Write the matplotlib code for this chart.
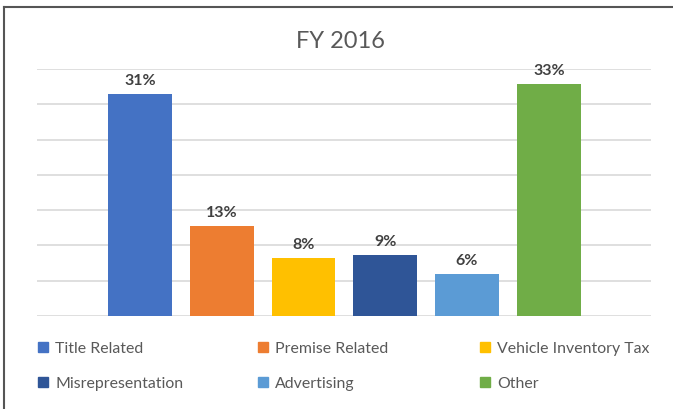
import matplotlib
matplotlib.use('Agg')
import matplotlib.pyplot as plt
from matplotlib.lines import Line2D
import numpy as np

# ── Data ──────────────────────────────────────────────────────────────────────
categories = ['Title Related', 'Premise Related', 'Vehicle Inventory Tax',
              'Misrepresentation', 'Advertising', 'Other']
values     = [31.4, 12.8, 8.2, 8.7, 5.9, 32.9]   # percent
colors     = ['#4472C4', '#ED7D31', '#FFC000', '#2F5597', '#5B9BD5', '#70AD47']
title      = 'FY 2016'

plt.rcParams['font.family'] = ['Lato', 'DejaVu Sans']

fig = plt.figure(figsize=(6.73, 4.10), dpi=100)
ax = fig.add_axes([37/673, 1 - 317/410, (651 - 37)/673, (317 - 70)/410])

x = np.arange(len(categories))
bars = ax.bar(x, values, width=0.78, color=colors, zorder=3)

for xi, v in zip(x, values):
    ax.annotate(f'{v:.0f}%', xy=(xi, v), xytext=(0, 5), textcoords='offset points',
                ha='center', va='bottom', fontsize=11.5, fontweight='bold',
                color='#404040')

ax.set_xlim(-1.26, 6.25)
ax.set_ylim(0, 35)
ax.set_yticks(np.arange(0, 36, 5))
ax.set_xticks([])
ax.tick_params(axis='y', length=0, labelleft=False)
ax.grid(True, axis='y', color='#d9d9d9', linewidth=1.2, zorder=0)
for s in ax.spines.values():
    s.set_visible(False)

fig.text(340/673, 1 - 42/410, title, ha='center', va='center',
         fontsize=17, color='#595959')

# ── Legend: three columns, two rows ──────────────────────────────────────────
col_x = [38/673, 258/673, 480/673]
for c in range(3):
    idx = [c, c + 3]
    handles = [Line2D([], [], marker='s', linestyle='none', markersize=7,
                      markerfacecolor=colors[i], markeredgecolor=colors[i])
               for i in idx]
    fig.legend(handles, [categories[i] for i in idx], loc='upper left',
               bbox_to_anchor=(col_x[c], 1 - 342/410), frameon=False,
               fontsize=11.4, labelcolor='#595959', handlelength=0.6,
               handletextpad=0.5, labelspacing=1.32, borderpad=0,
               borderaxespad=0)

# chart frame (top and left edge visible)
fig.add_artist(Line2D([4/673, 4/673], [0, 1 - 8/410], color='#555555', lw=1.5))
fig.add_artist(Line2D([4/673, 1], [1 - 8/410, 1 - 8/410], color='#555555', lw=1.5))

fig.savefig('out.png', dpi=100)
